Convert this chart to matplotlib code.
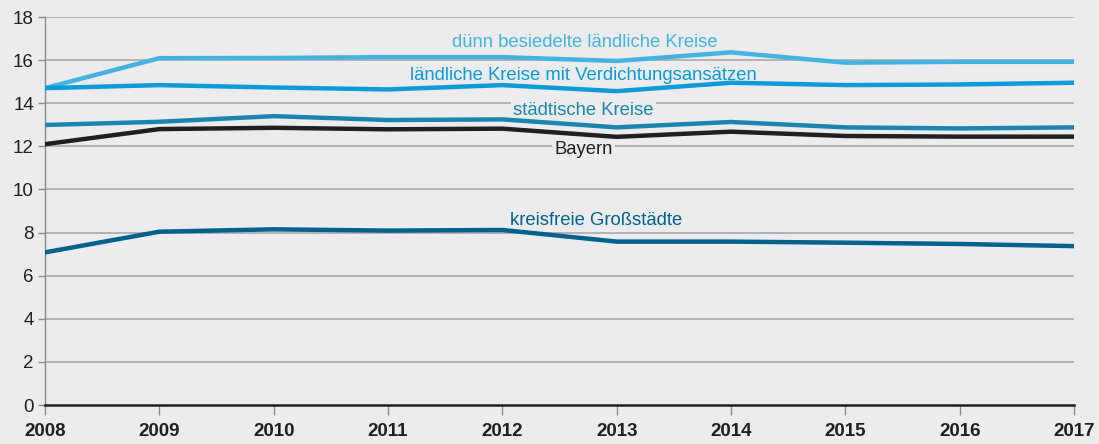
import matplotlib
matplotlib.use("Agg")
import matplotlib.pyplot as plt

years = [2008, 2009, 2010, 2011, 2012, 2013, 2014, 2015, 2016, 2017]
duenn = [14.70, 16.09, 16.10, 16.14, 16.14, 15.96, 16.36, 15.88, 15.92, 15.92]
laendlich = [14.70, 14.84, 14.73, 14.64, 14.84, 14.56, 14.95, 14.84, 14.87, 14.95]
staedtisch = [12.99, 13.14, 13.40, 13.22, 13.25, 12.88, 13.13, 12.88, 12.83, 12.88]
bayern = [12.10, 12.80, 12.86, 12.79, 12.82, 12.44, 12.68, 12.48, 12.45, 12.45]
kreisfrei = [7.08, 8.04, 8.15, 8.09, 8.12, 7.58, 7.58, 7.53, 7.47, 7.37]

series = [
    ("dünn besiedelte ländliche Kreise", duenn, "#45b3e0", 2012.72, 16.84),
    ("ländliche Kreise mit Verdichtungsansätzen", laendlich, "#0a9bd8", 2012.71, 15.30),
    ("städtische Kreise", staedtisch, "#1a86b0", 2012.71, 13.68),
    ("Bayern", bayern, "#231f20", 2012.71, 11.87),
    ("kreisfreie Großstädte", kreisfrei, "#00628a", 2012.82, 8.58),
]

bg = "#ececee"
plt.rcParams['font.family'] = ['Liberation Sans', 'DejaVu Sans']

fig = plt.figure(figsize=(10.99, 4.44), dpi=100, facecolor=bg)
ax = fig.add_axes([45/1099, 39/444, (1074-45)/1099, (405-17)/444])
ax.set_facecolor(bg)

ax.set_xlim(2008, 2017)
ax.set_ylim(0, 18)
ax.set_yticks(range(0, 19, 2))
ax.set_xticks(years)
ax.set_xticklabels([str(y) for y in years], fontweight='bold')

for y in range(2, 19, 2):
    ax.axhline(y, color="#a9a9ab", lw=1.2, zorder=1)

for name, vals, col, lx, ly in series:
    ax.plot(years, vals, color=col, lw=3.2, zorder=3, solid_joinstyle='miter')
for name, vals, col, lx, ly in series:
    ax.text(lx, ly, name, color=col, fontsize=13.3, ha='center', va='center', zorder=2,
            bbox=dict(facecolor=bg, edgecolor='none', pad=1.5))

for s in ['top', 'right']:
    ax.spines[s].set_visible(False)
ax.spines['left'].set_color("#8a8a8c")
ax.spines['left'].set_linewidth(1.0)
ax.spines['bottom'].set_color("#231f20")
ax.spines['bottom'].set_linewidth(1.8)
ax.spines['bottom'].set_zorder(5)

ax.tick_params(axis='y', length=5, width=1, color="#8a8a8c", labelsize=13.5, labelcolor="#231f20", pad=3)
ax.tick_params(axis='x', length=7, width=1, color="#8a8a8c", labelsize=13.5, labelcolor="#231f20", pad=6)

fig.savefig("out.png", dpi=100, facecolor=bg)
